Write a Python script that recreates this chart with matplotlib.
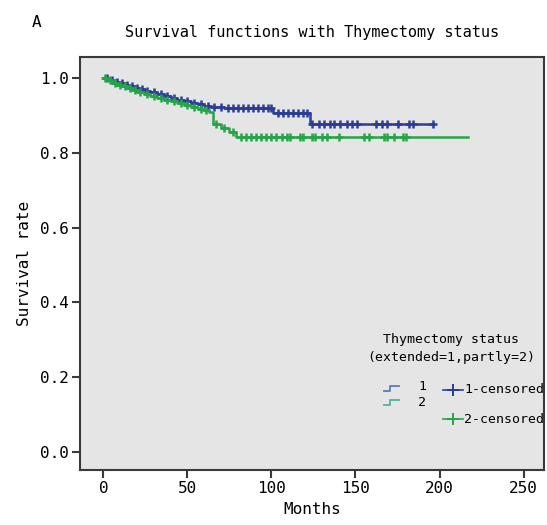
import numpy as np
import matplotlib
matplotlib.use("Agg")
import matplotlib.pyplot as plt

# Kaplan-Meier step data (months, survival rate)
blue_times = [0, 3, 6, 9, 12, 15, 18, 21, 24, 28, 32, 36, 40, 44, 48, 52, 56, 60, 64, 68, 72, 101, 123]
blue_surv = [1.0, 0.995, 0.99, 0.985, 0.981, 0.977, 0.973, 0.969, 0.965, 0.961, 0.956, 0.951, 0.946, 0.941,
             0.937, 0.933, 0.929, 0.926, 0.923, 0.921, 0.919, 0.905, 0.876]
blue_end = 196

green_times = [0, 2, 5, 8, 11, 14, 17, 20, 24, 28, 32, 36, 40, 44, 48, 52, 56, 60, 63, 65, 70, 75, 79]
green_surv = [1.0, 0.993, 0.987, 0.982, 0.977, 0.972, 0.967, 0.962, 0.957, 0.952, 0.947, 0.942, 0.937,
              0.932, 0.927, 0.922, 0.918, 0.914, 0.91, 0.876, 0.866, 0.856, 0.842]
green_end = 217

# censored observations (months)
blue_cens = [2, 5, 8, 11, 14, 17, 20, 23, 26, 30, 34, 38, 42, 46, 50, 54, 58, 62, 66, 70, 74, 77, 80, 83,
             86, 89, 92, 95, 98, 100, 104, 107, 110, 113, 116, 119, 121, 124, 128, 131, 135, 137, 141, 145,
             148, 151, 162, 166, 169, 175, 182, 184, 196]
green_cens = [1, 4, 7, 10, 13, 16, 19, 22, 26, 30, 34, 38, 42, 46, 50, 54, 58, 61, 67, 72, 77, 82, 85, 88,
              91, 94, 97, 100, 103, 106, 109, 111, 117, 119, 124, 126, 130, 133, 140, 155, 158, 167, 169,
              173, 178, 180]

blue_col = "#2b3d96"
green_col = "#25a448"
mono = "DejaVu Sans Mono"


def surv_at(times, surv, t):
    i = np.searchsorted(times, t, side="right") - 1
    return np.asarray(surv)[i]


fig = plt.figure(figsize=(5.47, 5.25), dpi=100)
ax = fig.add_axes([0.146, 0.105, 0.848, 0.786])
ax.set_facecolor("#e5e5e5")

for times, surv, end, cens, col in [(blue_times, blue_surv, blue_end, blue_cens, blue_col),
                                    (green_times, green_surv, green_end, green_cens, green_col)]:
    x = list(times) + [end]
    y = list(surv) + [surv[-1]]
    ax.step(x, y, where="post", color=col, lw=1.8)
    ax.plot(cens, surv_at(times, surv, cens), "+", color=col, ms=5.5, mew=1.8)

ax.set_xlim(-14, 262)
ax.set_ylim(-0.047, 1.055)
ax.set_xticks([0, 50, 100, 150, 200, 250])
ax.set_yticks([0.0, 0.2, 0.4, 0.6, 0.8, 1.0])
ax.set_yticklabels(["0.0", "0.2", "0.4", "0.6", "0.8", "1.0"])
for s in ax.spines.values():
    s.set_color("#3a3a3a")
    s.set_linewidth(1.5)
ax.tick_params(length=6, width=1.5, color="#3a3a3a", labelsize=11.5, pad=2)
for lab in ax.get_xticklabels() + ax.get_yticklabels():
    lab.set_family(mono)

ax.set_xlabel("Months", family=mono, fontsize=11.5, labelpad=4)
ax.set_ylabel("Survival rate", family=mono, fontsize=11.5, labelpad=6)
fig.text(0.57, 0.938, "Survival functions with Thymectomy status", family=mono, fontsize=11,
         ha="center", va="center")
fig.text(0.066, 0.957, "A", family=mono, fontsize=11.5, ha="center", va="center")

# legend drawn by hand (staggered SPSS layout)
tr = ax.transAxes
ax.text(0.80, 0.317, "Thymectomy status", transform=tr, family=mono, fontsize=9.5, ha="center", va="center")
ax.text(0.80, 0.272, "(extended=1,partly=2)", transform=tr, family=mono, fontsize=9.5, ha="center", va="center")
ax.plot([0.655, 0.668, 0.668, 0.688], [0.19, 0.19, 0.203, 0.203], transform=tr, color="#5a7ab8", lw=1.3)
ax.text(0.73, 0.203, "1", transform=tr, family=mono, fontsize=9.5, va="center")
ax.plot([0.655, 0.668, 0.668, 0.688], [0.157, 0.157, 0.17, 0.17], transform=tr, color="#4fb5a0", lw=1.3)
ax.text(0.73, 0.163, "2", transform=tr, family=mono, fontsize=9.5, va="center")
ax.plot([0.782, 0.825], [0.194, 0.194], transform=tr, color=blue_col, lw=1.2)
ax.plot([0.804], [0.194], "+", transform=tr, color=blue_col, ms=8, mew=1.4)
ax.text(0.828, 0.194, "1-censored", transform=tr, family=mono, fontsize=9.5, va="center")
ax.plot([0.782, 0.825], [0.123, 0.123], transform=tr, color=green_col, lw=1.2)
ax.plot([0.804], [0.123], "+", transform=tr, color=green_col, ms=8, mew=1.4)
ax.text(0.828, 0.123, "2-censored", transform=tr, family=mono, fontsize=9.5, va="center")

fig.savefig("out.png", dpi=100)
